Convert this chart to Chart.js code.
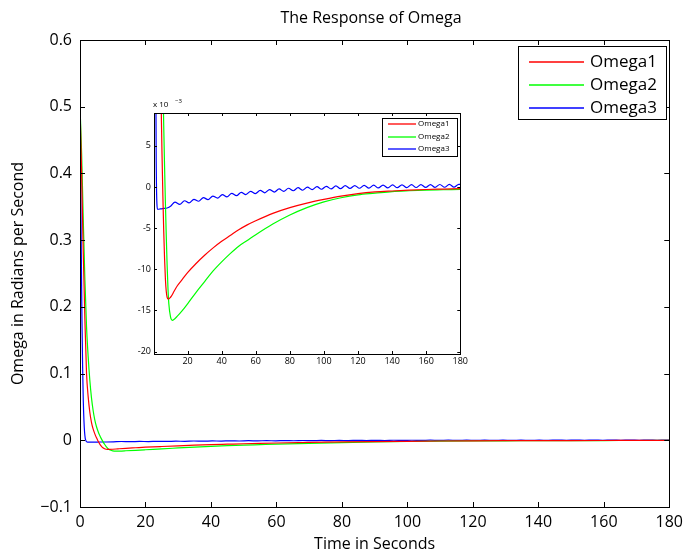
<!DOCTYPE html>
<html lang="en">
<head>
<meta charset="UTF-8">
<title>The Response of Omega</title>
<script src="https://cdn.jsdelivr.net/npm/chart.js"></script>
<style>
  body { margin: 0; background: #fff; }
  #wrap { position: relative; width: 689px; height: 560px; overflow: hidden; }
  #mainChart { position: absolute; left: 0; top: 0; }
  #zoomChart { position: absolute; left: 120px; top: 92px; }
</style>
</head>
<body>
<div id="wrap">
  <canvas id="mainChart" width="689" height="560"></canvas>
  <canvas id="zoomChart" width="350" height="278"></canvas>
</div>
<script>
// values are in units of 1e-3 rad/s (the inset uses them as is, main plot divides by 1000)
var seriesNames = ['Omega1', 'Omega2', 'Omega3'];
var seriesColors = ['#ff0000', '#00ff00', '#0000ff'];

var timeA = [0, 0.5, 1, 1.5, 2, 2.5, 3, 3.5, 4, 4.5,
             5, 5.5, 6, 6.5, 7, 7.5, 8, 8.5, 9, 10,
             11, 12, 14, 17, 20, 25, 30, 35, 40, 45,
             50, 55, 60, 70, 80, 90, 100, 110, 120, 130,
             140, 150, 160, 170, 180];
var omega1 = [500, 400, 280, 180, 100, 65, 42, 27, 17, 10,
              4, -1, -5.3, -8.7, -11.2, -12.7, -13.4, -13.6, -13.6, -13.4,
              -13.1, -12.7, -12.0, -11.2, -10.4, -9.3, -8.3, -7.4, -6.6, -5.9,
              -5.2, -4.6, -4.1, -3.2, -2.5, -1.95, -1.5, -1.1, -0.8, -0.6,
              -0.48, -0.38, -0.3, -0.25, -0.2];
var omega2 = [500, 430, 330, 240, 170, 125, 90, 64, 45, 31,
              21, 13.5, 7.5, 2.5, -2, -6, -9.5, -12.3, -14.2, -15.8,
              -16.2, -16.1, -15.7, -15.0, -14.2, -12.8, -11.5, -10.2, -9.1, -8.1,
              -7.2, -6.5, -5.8, -4.5, -3.4, -2.5, -1.8, -1.3, -0.95, -0.75,
              -0.55, -0.45, -0.38, -0.33, -0.28];

var timeB = [0, 0.2, 0.4, 0.6, 0.8, 1.0, 1.2, 1.4, 1.6, 1.8, 2.0, 2.3,
             3, 4, 6, 8, 10.2,
             12.6, 15.4, 18.2, 20.9, 23.7, 26.5, 29.3, 32, 34.8, 37.6,
             40.4, 43.1, 45.9, 48.7, 51.5, 54.2, 57, 59.8, 62.6, 65.3,
             68.1, 70.9, 73.7, 76.4, 79.2, 82, 84.8, 87.5, 90.3, 93.1,
             95.9, 98.6, 101.4, 104.2, 107, 109.7, 112.5, 115.3, 118.1, 120.8,
             123.6, 126.4, 129.2, 131.9, 134.7, 137.5, 140.3, 143, 145.8, 148.6,
             151.4, 154.1, 156.9, 159.7, 162.5, 165.2, 168, 170.8, 173.6, 176.3,
             179.1, 180];
var omega3 = [500, 400, 280, 180, 110, 60, 30, 12, 3, -0.5, -2.0, -2.7,
              -2.7, -2.65, -2.6, -2.55, -2.3,
              -1.83, -2.10, -1.67, -1.93, -1.49, -1.73, -1.29, -1.53, -1.10, -1.35,
              -0.92, -1.19, -0.78, -1.05, -0.64, -0.92, -0.52, -0.80, -0.41, -0.70,
              -0.31, -0.61, -0.23, -0.53, -0.15, -0.45, -0.08, -0.39, -0.01, -0.32,
              0.05, -0.27, 0.09, -0.23, 0.13, -0.20, 0.16, -0.17, 0.18, -0.15,
              0.20, -0.13, 0.22, -0.11, 0.24, -0.10, 0.25, -0.08, 0.27, -0.07,
              0.28, -0.06, 0.29, -0.05, 0.30, -0.04, 0.31, -0.03, 0.32, -0.02,
              0.33, 0.30];

var mainXTicks = [0, 20, 40, 60, 80, 100, 120, 140, 160, 180];
var mainYTicks = [-0.1, 0, 0.1, 0.2, 0.3, 0.4, 0.5, 0.6];
var mainYLabels = ['\u22120.1', '0', '0.1', '0.2', '0.3', '0.4', '0.5', '0.6'];
var zoomXTicks = [20, 40, 60, 80, 100, 120, 140, 160, 180];
var zoomYTicks = [-20, -15, -10, -5, 0, 5];
var mainXRange = [0, 180];
var mainYRange = [-0.1, 0.6];
var zoomXRange = [0.3, 180];
var zoomYRange = [-20.3, 9];

Chart.defaults.font.family = "'Open Sans', sans-serif";
Chart.defaults.color = '#000';

function pts(t, v, k) {
    return t.map(function (x, i) { return { x: x, y: v[i] * k }; });
}

function makeSets(k, w) {
    var times = [timeA, timeA, timeB];
    var vals = [omega1, omega2, omega3];
    return seriesNames.map(function (n, i) {
        return {
            label: n,
            data: pts(times[i], vals[i], k),
            borderColor: seriesColors[i],
            backgroundColor: seriesColors[i],
            borderWidth: w,
            pointRadius: 0,
            fill: false,
            cubicInterpolationMode: 'monotone'
        };
    });
}

function fixedTicks(list) {
    return function (s) {
        s.ticks = list.map(function (v) { return { value: v }; });
    };
}

// matlab style box with inward ticks on all four sides
var boxTicks = {
    id: 'boxTicks',
    beforeDraw: function (chart, args, o) {
        if (!o.fill) return;
        var a = chart.chartArea, ctx = chart.ctx;
        ctx.save();
        ctx.fillStyle = '#fff';
        ctx.fillRect(a.left, a.top, a.right - a.left, a.bottom - a.top);
        ctx.restore();
    },
    afterDatasetsDraw: function (chart, args, o) {
        var ctx = chart.ctx, a = chart.chartArea;
        var xs = chart.scales.x, ys = chart.scales.y;
        ctx.save();
        ctx.strokeStyle = '#000';
        ctx.lineWidth = 1;
        ctx.beginPath();
        xs.ticks.forEach(function (t) {
            var px = Math.round(xs.getPixelForValue(t.value)) + 0.5;
            ctx.moveTo(px, a.bottom); ctx.lineTo(px, a.bottom - o.len);
            ctx.moveTo(px, a.top); ctx.lineTo(px, a.top + o.len);
        });
        ys.ticks.forEach(function (t) {
            var py = Math.round(ys.getPixelForValue(t.value)) + 0.5;
            ctx.moveTo(a.left, py); ctx.lineTo(a.left + o.len, py);
            ctx.moveTo(a.right, py); ctx.lineTo(a.right - o.len, py);
        });
        ctx.stroke();
        ctx.lineWidth = o.frame;
        ctx.strokeRect(Math.round(a.left) + 0.5, Math.round(a.top) + 0.5,
                       Math.round(a.right - a.left), Math.round(a.bottom - a.top));
        ctx.restore();
    }
};

var boxLegend = {
    id: 'boxLegend',
    afterDraw: function (chart, args, o) {
        var ctx = chart.ctx;
        ctx.save();
        ctx.fillStyle = '#fff';
        ctx.fillRect(o.x, o.y, o.w, o.h);
        ctx.strokeStyle = '#000';
        ctx.lineWidth = 1;
        ctx.strokeRect(o.x + 0.5, o.y + 0.5, o.w, o.h);
        ctx.font = o.font;
        ctx.textBaseline = 'middle';
        chart.data.datasets.forEach(function (ds, i) {
            var yy = Math.round(o.y + o.first + i * o.gap);
            ctx.strokeStyle = ds.borderColor;
            ctx.lineWidth = 1.3;
            ctx.beginPath();
            ctx.moveTo(o.x + o.l1, yy);
            ctx.lineTo(o.x + o.l2, yy);
            ctx.stroke();
            ctx.fillStyle = '#000';
            ctx.fillText(ds.label, o.x + o.tx, yy);
        });
        ctx.restore();
    }
};

var extraText = {
    id: 'extraText',
    afterDraw: function (chart, args, o) {
        var ctx = chart.ctx;
        ctx.save();
        ctx.fillStyle = '#000';
        o.items.forEach(function (it) {
            ctx.font = it.font;
            ctx.textAlign = it.align || 'left';
            ctx.textBaseline = 'alphabetic';
            ctx.fillText(it.text, it.x, it.y);
        });
        ctx.restore();
    }
};

new Chart(document.getElementById('mainChart'), {
    type: 'line',
    data: { datasets: makeSets(0.001, 1.2) },
    plugins: [boxTicks, boxLegend, extraText],
    options: {
        responsive: false,
        animation: false,
        events: [],
        layout: { padding: { top: 40, right: 14, left: 0, bottom: 0 } },
        plugins: {
            legend: { display: false },
            tooltip: { enabled: false },
            boxTicks: { len: 5, frame: 1 },
            boxLegend: { x: 518, y: 46, w: 148, h: 73, first: 16, gap: 22.8,
                         l1: 11, l2: 66, tx: 72, font: "17px 'Open Sans', sans-serif" },
            extraText: { items: [
                { text: 'The Response of Omega', x: 371, y: 23, align: 'center',
                  font: "16px 'Open Sans', sans-serif" }
            ] }
        },
        scales: {
            x: {
                type: 'linear',
                min: mainXRange[0], max: mainXRange[1],
                grid: { display: false, drawTicks: false },
                border: { display: false },
                afterBuildTicks: fixedTicks(mainXTicks),
                ticks: { padding: 6, maxRotation: 0, autoSkip: false, font: { size: 16 } },
                title: { display: true, text: 'Time in Seconds',
                         font: { size: 16 }, padding: { top: 0, bottom: 6 } },
                afterFit: function (s) { s.height = 53; }
            },
            y: {
                type: 'linear',
                min: mainYRange[0], max: mainYRange[1],
                grid: { display: false, drawTicks: false },
                border: { display: false },
                afterBuildTicks: fixedTicks(mainYTicks),
                ticks: { padding: 8, autoSkip: false, font: { size: 16 },
                         callback: function (v, i) { return mainYLabels[i]; } },
                title: { display: true, text: 'Omega in Radians per Second',
                         font: { size: 16 }, padding: { top: 9, bottom: 0 } },
                afterFit: function (s) { s.width = 80; }
            }
        }
    }
});

new Chart(document.getElementById('zoomChart'), {
    type: 'line',
    data: { datasets: makeSets(1, 1.2) },
    plugins: [boxTicks, boxLegend, extraText],
    options: {
        responsive: false,
        animation: false,
        events: [],
        layout: { padding: { top: 21, right: 7, left: 0, bottom: 0 } },
        plugins: {
            legend: { display: false },
            tooltip: { enabled: false },
            boxTicks: { len: 3, frame: 1, fill: true },
            boxLegend: { x: 262, y: 26, w: 75, h: 38, first: 6.3, gap: 12.3,
                         l1: 6, l2: 34, tx: 36, font: "8px 'Open Sans', sans-serif" },
            extraText: { items: [
                { text: 'x 10', x: 33, y: 15, font: "8px 'Open Sans', sans-serif" },
                { text: '\u22123', x: 55, y: 11, font: "6px 'Open Sans', sans-serif" }
            ] }
        },
        scales: {
            x: {
                type: 'linear',
                min: zoomXRange[0], max: zoomXRange[1],
                grid: { display: false, drawTicks: false },
                border: { display: false },
                afterBuildTicks: fixedTicks(zoomXTicks),
                ticks: { padding: 2, maxRotation: 0, autoSkip: false, font: { size: 9 } },
                afterFit: function (s) { s.height = 16; }
            },
            y: {
                type: 'linear',
                min: zoomYRange[0], max: zoomYRange[1],
                grid: { display: false, drawTicks: false },
                border: { display: false },
                afterBuildTicks: fixedTicks(zoomYTicks),
                ticks: { padding: 3, autoSkip: false, font: { size: 9 } },
                afterFit: function (s) { s.width = 34; }
            }
        }
    }
});
</script>
</body>
</html>
